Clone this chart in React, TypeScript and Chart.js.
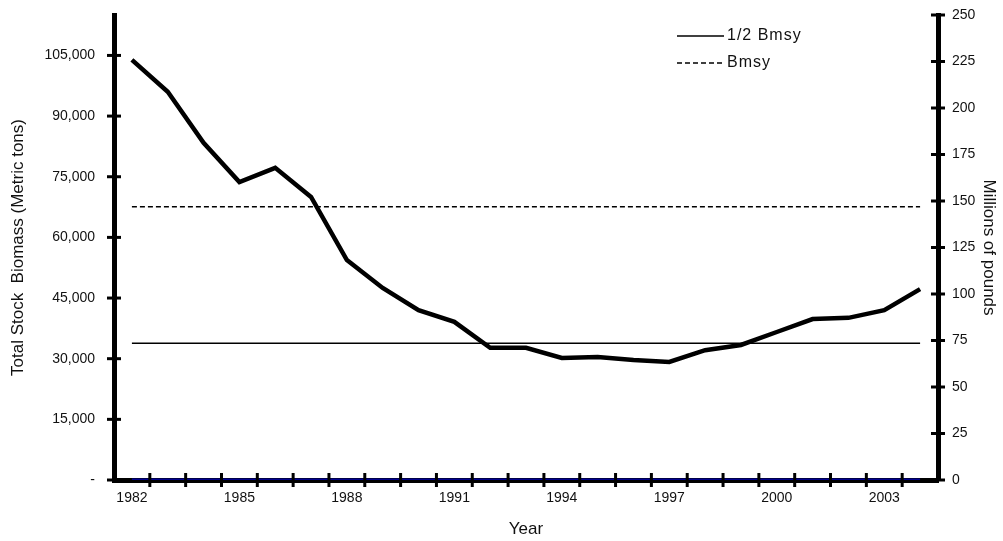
import React, { useEffect, useRef } from 'react';
import { Chart, registerables } from 'chart.js';

Chart.register(...registerables);

// ---- data ----
const YEARS = ['1982', '1983', '1984', '1985', '1986', '1987', '1988', '1989', '1990', '1991', '1992', '1993', '1994', '1995', '1996', '1997', '1998', '1999', '2000', '2001', '2002', '2003', '2004'];
const BIOMASS = [103900, 96000, 83400, 73700, 77200, 70000, 54400, 47500, 42000, 39100, 32700, 32700, 30200, 30400, 29700, 29200, 32100, 33400, 36600, 39800, 40100, 42000, 47200];
const BMSY = 67600;
const HALF_BMSY = 33800;
const ZERO_SERIES = YEARS.map(() => 0);
const XTICK_LABELS = ['1982', '1985', '1988', '1991', '1994', '1997', '2000', '2003'];
const LEFT_TICKS = [0, 15000, 30000, 45000, 60000, 75000, 90000, 105000];
const RIGHT_TICKS = [0, 25, 50, 75, 100, 125, 150, 175, 200, 225, 250];
const LEFT_MAX = 115000;
const RIGHT_MAX = 250;

const FONT = "'Liberation Sans', Arial, sans-serif";
const TEXT = '#111';

const tickMarks = {
  id: 'tickMarks',
  afterDatasetsDraw(chart: any) {
    const ctx = chart.ctx;
    const area = chart.chartArea;
    ctx.save();
    ctx.strokeStyle = '#000';
    ctx.lineWidth = 3;
    const L = 7;
    const y = chart.scales.y;
    y.ticks.forEach((t: any) => {
      const py = y.getPixelForValue(t.value);
      ctx.beginPath();
      ctx.moveTo(area.left - L, py);
      ctx.lineTo(area.left + L, py);
      ctx.stroke();
    });
    const y2 = chart.scales.y2;
    y2.ticks.forEach((t: any) => {
      const py = y2.getPixelForValue(t.value);
      ctx.beginPath();
      ctx.moveTo(area.right - L, py);
      ctx.lineTo(area.right + L, py);
      ctx.stroke();
    });
    const x = chart.scales.x;
    const n = YEARS.length;
    for (let i = 0; i < n - 1; i++) {
      const px = (x.getPixelForValue(i) + x.getPixelForValue(i + 1)) / 2;
      ctx.beginPath();
      ctx.moveTo(px, area.bottom - L);
      ctx.lineTo(px, area.bottom + L);
      ctx.stroke();
    }
    ctx.restore();
  },
};

const customLegend = {
  id: 'customLegend',
  afterDraw(chart: any) {
    const ctx = chart.ctx;
    const items = [chart.data.datasets[1], chart.data.datasets[2]];
    const x0 = 677;
    const x1 = 724;
    const ys = [36, 63];
    ctx.save();
    items.forEach((ds: any, i: number) => {
      ctx.strokeStyle = ds.borderColor;
      ctx.lineWidth = ds.borderWidth;
      ctx.setLineDash(ds.borderDash || []);
      ctx.beginPath();
      ctx.moveTo(x0, ys[i]);
      ctx.lineTo(x1, ys[i]);
      ctx.stroke();
      ctx.setLineDash([]);
      ctx.fillStyle = TEXT;
      ctx.font = `16px ${FONT}`;
      (ctx as any).letterSpacing = '1px';
      ctx.textBaseline = 'middle';
      ctx.textAlign = 'left';
      ctx.fillText(ds.label, x1 + 3, ys[i]);
    });
    ctx.restore();
  },
};

const noPad = (s: any) => {
  s.paddingTop = 0;
  s.paddingBottom = 0;
  s.paddingLeft = 0;
  s.paddingRight = 0;
};

export default function App() {
  const ref = useRef<HTMLCanvasElement | null>(null);

  useEffect(() => {
    document.body.style.margin = '0';
    const canvas = ref.current;
    if (!canvas) return;
    const chart = new Chart(canvas, {
      type: 'line',
      data: {
        labels: YEARS,
        datasets: [
          {
            label: 'Total Stock Biomass',
            data: BIOMASS,
            borderColor: '#000',
            borderWidth: 4.5,
            pointRadius: 0,
            tension: 0,
            yAxisID: 'y',
            order: 1,
          },
          {
            label: '1/2 Bmsy',
            data: YEARS.map(() => HALF_BMSY),
            borderColor: '#000',
            borderWidth: 1.5,
            pointRadius: 0,
            yAxisID: 'y',
            order: 2,
          },
          {
            label: 'Bmsy',
            data: YEARS.map(() => BMSY),
            borderColor: '#000',
            borderWidth: 1.5,
            borderDash: [5, 3],
            pointRadius: 0,
            yAxisID: 'y',
            order: 3,
          },
          {
            label: 'zero',
            data: ZERO_SERIES,
            borderColor: '#000090',
            borderWidth: 3,
            pointRadius: 0,
            yAxisID: 'y2',
            order: 4,
          },
        ],
      },
      options: {
        animation: false,
        responsive: false,
        devicePixelRatio: 1,
        layout: { padding: { top: 15, left: 0, right: 0, bottom: 0 } },
        plugins: {
          legend: { display: false },
          tooltip: { enabled: false },
        },
        scales: {
          x: {
            type: 'category',
            offset: true,
            grid: { display: false, drawTicks: false },
            border: { display: true, color: '#000', width: 5 },
            ticks: {
              autoSkip: false,
              maxRotation: 0,
              padding: 10,
              color: TEXT,
              font: { family: FONT, size: 14 },
              callback: (_v: any, i: number) => (XTICK_LABELS.includes(YEARS[i]) ? YEARS[i] : ''),
            },
            title: {
              display: true,
              text: 'Year',
              color: TEXT,
              font: { family: FONT, size: 17 },
              padding: { top: 1, bottom: 1 },
            },
            afterFit: (s: any) => { s.height = 61; noPad(s); },
          },
          y: {
            position: 'left',
            min: 0,
            max: LEFT_MAX,
            grid: { display: false, drawTicks: false },
            border: { display: true, color: '#000', width: 5 },
            afterBuildTicks: (s: any) => { s.ticks = LEFT_TICKS.map((v) => ({ value: v })); },
            ticks: {
              padding: 19,
              color: TEXT,
              font: { family: FONT, size: 14 },
              callback: (v: any) => (Number(v) === 0 ? '-' : Number(v).toLocaleString('en-US')),
            },
            title: {
              display: true,
              text: 'Total Stock  Biomass (Metric tons)',
              color: TEXT,
              font: { family: FONT, size: 17 },
              padding: { top: 8, bottom: 0 },
            },
            afterFit: (s: any) => { s.width = 114; noPad(s); },
          },
          y2: {
            position: 'right',
            min: 0,
            max: RIGHT_MAX,
            grid: { display: false, drawTicks: false },
            border: { display: true, color: '#000', width: 5 },
            afterBuildTicks: (s: any) => { s.ticks = RIGHT_TICKS.map((v) => ({ value: v })); },
            ticks: {
              padding: 14,
              color: TEXT,
              font: { family: FONT, size: 14 },
            },
            title: {
              display: true,
              text: 'Millions of pounds',
              color: TEXT,
              font: { family: FONT, size: 17 },
              padding: { top: 4, bottom: 0 },
            },
            afterFit: (s: any) => { s.width = 65; noPad(s); },
          },
        },
      } as any,
      plugins: [tickMarks, customLegend],
    });
    return () => chart.destroy();
  }, []);

  return (
    <div style={{ width: 1003, height: 541, position: 'relative' }}>
      <canvas ref={ref} width={1003} height={541} style={{ display: 'block' }} />
    </div>
  );
}
